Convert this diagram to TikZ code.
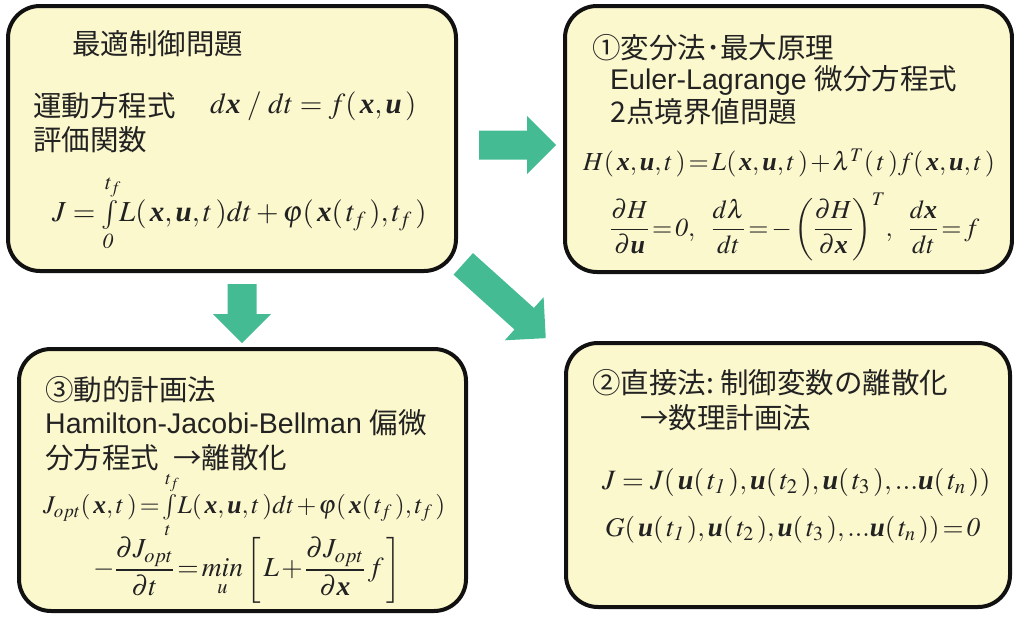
\documentclass[tikz,border=0pt]{standalone}
\usepackage{amsmath}
\usepackage{mathptmx}
\usepackage[no-math]{fontspec}
\setmainfont{Liberation Serif}
\setsansfont{Liberation Sans}
\newfontfamily\jp{Noto Sans CJK JP}
\usepackage{xcolor}
\usepackage{tikz}
\definecolor{ctrlInk}{HTML}{111111}
\definecolor{ctrlText}{HTML}{222222}
\definecolor{ctrlCream}{HTML}{FCF8CE}
\definecolor{ctrlGreen}{HTML}{44BB92}
\newcommand{\bx}{\text{\normalfont\bfseries\itshape x}}
\newcommand{\bu}{\text{\normalfont\bfseries\itshape u}}
\newcommand{\tightmath}{\thickmuskip=2mu\medmuskip=1.5mu}

\begin{document}
\begin{tikzpicture}[
  x=1pt, y=-1pt,
  panel/.style={draw=ctrlInk, line width=4pt, fill=ctrlCream, rounded corners=32pt, inner sep=0pt},
  heading/.style={anchor=west, inner sep=0pt, text=ctrlText, font=\sffamily\fontsize{28.5}{34}\selectfont},
  eq/.style={anchor=west, inner sep=0pt, text=ctrlText, font=\fontsize{#1}{34}\selectfont},
  eq/.default=28,
  tighteq/.style={eq, font=\fontsize{#1}{34}\selectfont\tightmath},
  flow/.style={fill=ctrlGreen}
]
  \useasboundingbox (0,0) rectangle (1014,616);
  \node[panel, minimum width=448pt, minimum height=265pt] (problem) at (232,138.5) {};
  \node[panel, minimum width=447pt, minimum height=266pt] (variation) at (788.5,139) {};
  \node[panel, minimum width=447pt, minimum height=262pt] (dynprog) at (242.5,480) {};
  \node[panel, minimum width=444pt, minimum height=264pt] (direct) at (788,475) {};

  % block arrows between the panels
  \foreach \x/\y/\a/\l in {517.5/145/0/77, 242/313.5/-90/59, 504.5/301/-42/111} {
    \fill[flow, shift={(\x,\y)}, rotate=\a] (-\l/2,-14.5) -- (\l/2-29,-14.5) -- (\l/2-29,-29) -- (\l/2,0) -- (\l/2-29,29) -- (\l/2-29,14.5) -- (-\l/2,14.5) -- cycle;
  }

  % optimal control problem
  \node[heading] (p-title) at (72,44) {\jp 最適制御問題};
  \node[heading] (p-motion) at (33,106) {\jp 運動方程式};
  \node[eq=29] (p-motion-eq) at (210,106) {$d\bx\;/\;dt = f(\,\bx,\bu\,)$};
  \node[heading] (p-cost) at (33,140) {\jp 評価関数};
  \node[eq=29] (p-cost-eq) at (52,213) {$J = \int\limits_{\mathit{0}}^{t_f}\! L(\,\bx,\bu,t\,)dt + \varphi(\,\bx(\,t_f\,),t_f\,)$};

  % 1: variational method
  \node[heading] (v-title) at (592,48) {\jp ①変分法･最大原理};
  \node[heading] (v-el) at (610,80) {Euler-Lagrange {\jp 微分方程式}};
  \node[heading] (v-bvp) at (610,112) {\jp 2点境界値問題};
  \node[tighteq=26] (v-ham) at (583,163) {$H(\,\bx,\bu,t\,) = L(\,\bx,\bu,t\,) + \lambda^{T}(\,t\,)f(\,\bx,\bu,t\,)$};
  \node[tighteq=26] (v-cond) at (610,227) {$\dfrac{\partial H}{\partial \bu} = \mathit{0},\ \ \dfrac{d\lambda}{dt} = -\left(\dfrac{\partial H}{\partial \bx}\right)^{T}\!,\ \ \dfrac{d\bx}{dt} = f$};

  % 3: dynamic programming
  \node[heading] (d-title) at (45,390) {\jp ③動的計画法};
  \node[heading] (d-hjb) at (45,423) {Hamilton-Jacobi-Bellman {\jp 偏微}};
  \node[heading] (d-disc) at (45,458) {\jp 分方程式\hspace{14pt}→離散化};
  \node[tighteq=25.5] (d-value) at (43,505) {$J_{opt}(\,\bx,t\,) = \int\limits_{t}^{t_f}\! L(\,\bx,\bu,t\,)dt + \varphi(\,\bx(\,t_f\,),t_f\,)$};
  \node[tighteq=27.5] (d-pde) at (93,570) {$-\dfrac{\partial J_{opt}}{\partial t} = \mathop{min}\limits_{u}\left[\,L + \dfrac{\partial J_{opt}}{\partial \bx}\,f\,\right]$};

  % 2: direct method
  \node[heading] (s-title) at (592,383) {\jp ②直接法:\hspace{6pt}制御変数の離散化};
  \node[heading] (s-nlp) at (640,418) {\jp →数理計画法};
  \node[eq=28] (s-cost) at (602,482) {$J = J(\,\bu(\,t_{\mathit{1}}\,),\bu(\,t_2\,),\bu(\,t_3\,),...\bu(\,t_n\,))$};
  \node[tighteq=27] (s-cons) at (605,530) {$G(\,\bu(\,t_{\mathit{1}}\,),\bu(\,t_2\,),\bu(\,t_3\,),...\bu(\,t_n\,)) = \mathit{0}$};
\end{tikzpicture}
\end{document}
